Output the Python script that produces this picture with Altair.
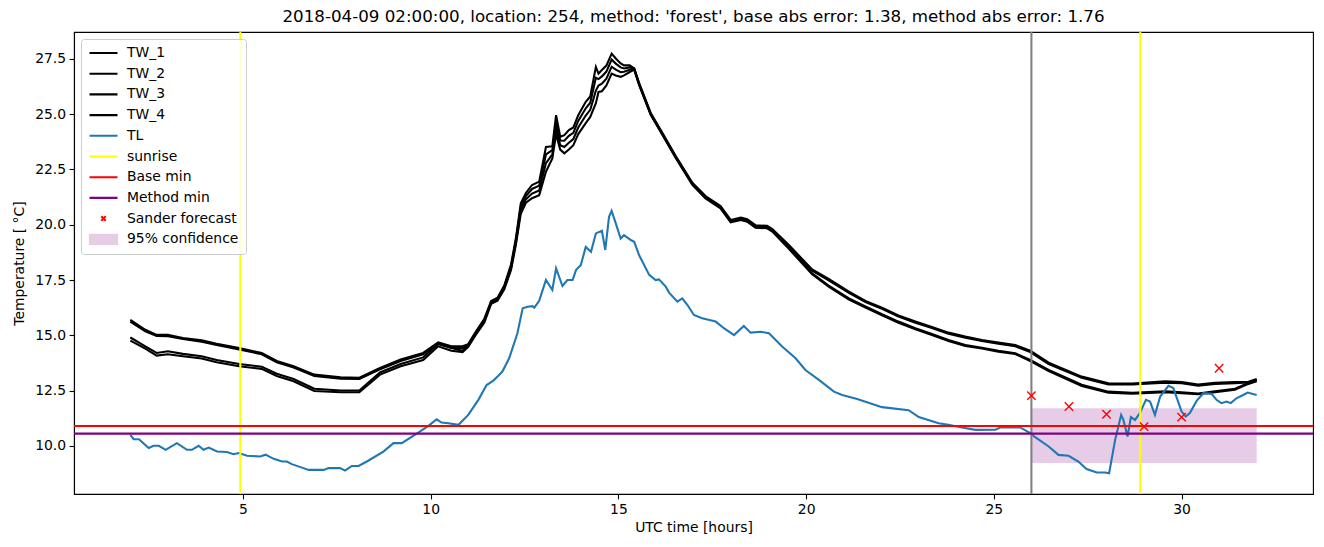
import altair as alt
import pandas as pd

# ---------------- data ----------------
tw_hours = [2.0, 2.4, 2.7, 3.0, 3.4, 3.9, 4.3, 4.9, 5.5, 5.9,
            6.35, 6.9, 7.6, 8.1, 8.65, 9.2, 9.8, 10.2, 10.55, 10.85,
            11.0, 11.2, 11.43, 11.61, 11.78, 11.96, 12.14, 12.27, 12.40, 12.54,
            12.70, 12.89, 13.07, 13.24, 13.34, 13.45, 13.56, 13.68, 13.80, 13.93,
            14.13, 14.25, 14.40, 14.47, 14.56, 14.68, 14.82, 14.93, 15.06, 15.15,
            15.30, 15.42, 15.55, 15.86, 16.17, 16.53, 16.97, 17.32, 17.72, 17.99,
            18.26, 18.43, 18.65, 18.96, 19.10, 19.54, 20.16, 20.60, 21.14, 21.58,
            22.02, 22.46, 22.91, 23.35, 23.79, 24.24, 24.68, 25.12, 25.57, 25.97,
            26.46, 27.34, 28.05, 28.69, 29.56, 30.00, 30.44, 30.89, 31.42, 31.78,
            32.0]

tw_1 = [15.70, 15.25, 15.02, 15.02, 14.88, 14.77, 14.62, 14.42, 14.20, 13.84,
        13.60, 13.22, 13.10, 13.08, 13.52, 13.90, 14.20, 14.68, 14.50, 14.50,
        14.60, 15.16, 15.75, 16.55, 16.70, 17.25, 18.20, 19.40, 20.97, 21.45,
        21.80, 21.95, 23.52, 23.55, 24.96, 23.98, 24.05, 24.28, 24.40, 24.96,
        25.56, 25.80, 27.14, 26.84, 27.00, 27.20, 27.74, 27.52, 27.30, 27.21,
        27.21, 27.07, 26.42, 25.06, 24.16, 23.10, 21.90, 21.30, 20.85, 20.22,
        20.33, 20.25, 19.98, 19.95, 19.80, 19.08, 17.98, 17.55, 16.97, 16.55,
        16.25, 15.90, 15.62, 15.38, 15.12, 14.94, 14.79, 14.67, 14.56, 14.30,
        13.76, 13.13, 12.83, 12.82, 12.92, 12.88, 12.77, 12.85, 12.88, 12.90,
        13.02]

tw_2 = [15.62, 15.18, 14.97, 14.96, 14.83, 14.71, 14.56, 14.36, 14.14, 13.78,
        13.54, 13.16, 13.04, 13.02, 13.46, 13.84, 14.14, 14.62, 14.44, 14.42,
        14.56, 15.10, 15.70, 16.50, 16.65, 17.20, 18.10, 19.30, 20.83, 21.31,
        21.62, 21.77, 23.18, 23.38, 24.70, 23.81, 23.80, 24.02, 24.16, 24.70,
        25.27, 25.52, 26.65, 26.59, 26.71, 26.93, 27.47, 27.29, 27.12, 27.07,
        27.12, 27.04, 26.38, 25.02, 24.12, 23.06, 21.86, 21.25, 20.80, 20.17,
        20.28, 20.20, 19.93, 19.90, 19.75, 19.02, 17.92, 17.48, 16.92, 16.50,
        16.20, 15.85, 15.57, 15.33, 15.07, 14.89, 14.74, 14.62, 14.50, 14.24,
        13.70, 13.08, 12.78, 12.77, 12.86, 12.83, 12.72, 12.80, 12.83, 12.86,
        12.98]

tw_3 = [14.90, 14.50, 14.20, 14.28, 14.16, 14.05, 13.88, 13.70, 13.58, 13.26,
        13.02, 12.58, 12.50, 12.50, 13.32, 13.70, 14.00, 14.60, 14.42, 14.30,
        14.56, 15.10, 15.66, 16.48, 16.62, 17.15, 18.05, 19.20, 20.66, 21.16,
        21.41, 21.55, 22.79, 23.19, 24.40, 23.60, 23.52, 23.71, 23.88, 24.40,
        24.94, 25.20, 26.07, 26.30, 26.38, 26.61, 27.15, 27.02, 26.90, 26.92,
        27.01, 27.07, 26.36, 25.00, 24.10, 23.04, 21.84, 21.22, 20.77, 20.14,
        20.25, 20.17, 19.90, 19.87, 19.72, 18.95, 17.80, 17.25, 16.67, 16.30,
        15.95, 15.62, 15.32, 15.06, 14.79, 14.56, 14.44, 14.30, 14.19, 13.88,
        13.43, 12.76, 12.45, 12.40, 12.47, 12.42, 12.37, 12.47, 12.58, 12.84,
        12.96]

tw_4 = [14.76, 14.40, 14.08, 14.14, 14.05, 13.95, 13.78, 13.60, 13.48, 13.16,
        12.92, 12.48, 12.42, 12.42, 13.22, 13.60, 13.88, 14.50, 14.30, 14.24,
        14.48, 15.02, 15.58, 16.42, 16.56, 17.08, 17.95, 19.10, 20.50, 21.00,
        21.20, 21.34, 22.40, 23.00, 24.10, 23.40, 23.23, 23.40, 23.60, 24.10,
        24.60, 24.88, 25.50, 26.01, 26.04, 26.30, 26.84, 26.75, 26.69, 26.76,
        26.91, 27.02, 26.33, 24.97, 24.07, 23.01, 21.81, 21.19, 20.74, 20.11,
        20.22, 20.14, 19.87, 19.84, 19.69, 18.91, 17.76, 17.20, 16.62, 16.25,
        15.90, 15.57, 15.27, 15.01, 14.74, 14.52, 14.40, 14.26, 14.15, 13.83,
        13.38, 12.71, 12.40, 12.36, 12.42, 12.38, 12.33, 12.43, 12.54, 12.80,
        12.92]

tl_hours = [2.00, 2.09, 2.23, 2.49, 2.62, 2.76, 2.94, 3.24, 3.51, 3.64,
            3.82, 3.95, 4.09, 4.31, 4.57, 4.75, 4.89, 5.11, 5.46, 5.60,
            5.82, 6.04, 6.17, 6.30, 6.61, 6.75, 7.15, 7.28, 7.59, 7.72,
            7.90, 8.08, 8.30, 8.74, 9.01, 9.23, 9.72, 9.94, 10.16, 10.29,
            10.47, 10.74, 11.00, 11.27, 11.49, 11.67, 11.78, 11.91, 12.09, 12.31,
            12.45, 12.58, 12.71, 12.76, 12.89, 13.07, 13.24, 13.34, 13.51, 13.64,
            13.78, 13.87, 14.00, 14.13, 14.27, 14.40, 14.56, 14.65, 14.75, 14.82,
            14.93, 15.06, 15.15, 15.33, 15.42, 15.55, 15.82, 15.99, 16.08, 16.26,
            16.35, 16.57, 16.70, 16.84, 17.01, 17.23, 17.59, 17.81, 18.08, 18.34,
            18.52, 18.79, 19.01, 19.36, 19.72, 19.98, 20.34, 20.74, 20.96, 21.36,
            22.02, 22.73, 23.00, 23.53, 23.79, 24.15, 24.51, 25.04, 25.17, 25.70,
            25.97, 26.10, 26.46, 26.72, 26.99, 27.25, 27.47, 27.74, 27.96, 28.07,
            28.23, 28.39, 28.45, 28.56, 28.65, 28.76, 28.89, 29.05, 29.16, 29.29,
            29.43, 29.65, 29.78, 30.00, 30.11, 30.22, 30.40, 30.58, 30.80, 30.93,
            31.06, 31.20, 31.31, 31.46, 31.64, 31.76, 32.00]

tl_values = [10.50, 10.30, 10.30, 9.90, 10.00, 10.00, 9.82, 10.12, 9.82, 9.82,
             10.00, 9.82, 9.92, 9.74, 9.72, 9.62, 9.67, 9.55, 9.52, 9.60,
             9.41, 9.29, 9.29, 9.17, 8.99, 8.91, 8.91, 8.99, 8.99, 8.88,
             9.09, 9.09, 9.29, 9.74, 10.12, 10.12, 10.65, 10.90, 11.20, 11.05,
             11.02, 10.95, 11.40, 12.08, 12.75, 12.95, 13.13, 13.36, 13.96, 15.09,
             16.22, 16.29, 16.32, 16.25, 16.56, 17.50, 17.05, 18.03, 17.23, 17.50,
             17.50, 17.95, 18.18, 19.00, 18.78, 19.61, 19.73, 18.86, 20.36, 20.63,
             20.06, 19.38, 19.53, 19.31, 19.23, 18.63, 17.73, 17.50, 17.53, 17.20,
             16.93, 16.52, 16.67, 16.37, 15.92, 15.77, 15.62, 15.32, 15.01, 15.42,
             15.12, 15.16, 15.09, 14.49, 13.96, 13.43, 12.98, 12.45, 12.30, 12.12,
             11.75, 11.61, 11.30, 11.02, 10.95, 10.83, 10.72, 10.73, 10.83, 10.83,
             10.57, 10.39, 9.97, 9.59, 9.55, 9.29, 8.95, 8.79, 8.79, 8.76,
             10.27, 11.40, 11.17, 10.42, 11.30, 11.17, 11.48, 12.08, 12.00, 11.40,
             12.23, 12.71, 12.61, 11.55, 11.32, 11.48, 12.03, 12.38, 12.35, 12.08,
             11.93, 12.00, 11.93, 12.15, 12.30, 12.41, 12.30]

sunrise_hours = [4.93, 28.90]
min_values = [10.90, 10.55]
min_labels = ["Base min", "Method min"]
forecast_hour = [26.0]
sander_hours = [26, 27, 28, 29, 30, 31]
sander_values = [12.27, 11.78, 11.43, 10.87, 11.30, 13.51]
conf_hours = [26.0, 32.0]
conf_temps = [9.22, 11.70]

labels = ["TW_1", "TW_2", "TW_3", "TW_4", "TL", "sunrise", "Base min",
          "Method min", "Sander forecast", "95% confidence"]
colors = ["#000000", "#000000", "#000000", "#000000", "#1f77b4", "#ffff00",
          "#ff0000", "#800080", "#ff0000", "#e6cce6"]

FONT = "DejaVu Sans"
LW = 2.08

# ---------------- frames ----------------
tw_frames = []
for name, vals in zip(labels[:4], [tw_1, tw_2, tw_3, tw_4]):
    tw_frames.append(pd.DataFrame({"hours": tw_hours, "temp": vals, "series": name}))
tw_df = pd.concat(tw_frames, ignore_index=True)
tl_df = pd.DataFrame({"hours": tl_hours, "temp": tl_values, "series": "TL"})
sun_df = pd.DataFrame({"hours": sunrise_hours, "series": "sunrise"})
min_df = pd.DataFrame({"temp": min_values, "series": min_labels})
fc_df = pd.DataFrame({"hours": forecast_hour})
sander_df = pd.DataFrame({"hours": sander_hours, "temp": sander_values,
                          "series": "Sander forecast"})
conf_df = pd.DataFrame({"hours": [conf_hours[0]], "hours2": [conf_hours[1]],
                        "temp": [conf_temps[0]], "temp2": [conf_temps[1]],
                        "series": "95% confidence"})

# ---------------- legend symbol expressions ----------------
def ternary(mapping, default):
    expr = "'" + default + "'"
    for k, v in reversed(mapping):
        expr = "datum.value === '" + k + "' ? '" + v + "' : (" + expr + ")"
    return expr

stroke_expr = ternary(list(zip(labels, colors)), "#000000")
fill_expr = "datum.value === '95% confidence' ? '#e6cce6' : 'transparent'"
shape_expr = ("datum.value === 'Sander forecast' ? 'M-0.16,-0.16L0.16,0.16M0.16,-0.16L-0.16,0.16' : "
              "(datum.value === '95% confidence' ? 'M-0.97,-0.33H0.97V0.33H-0.97Z' : 'M-1,0H1')")

legend = alt.Legend(
    title=None, orient="top-left", offset=7, padding=7,
    rowPadding=6.7, clipHeight=14, symbolSize=784,
    symbolStrokeWidth=LW,
    symbolType={"expr": shape_expr},
    symbolStrokeColor={"expr": stroke_expr},
    symbolFillColor={"expr": fill_expr},
    symbolOpacity=1,
    labelFont=FONT, labelFontSize=13.9, labelColor="black", labelOffset=8,
    labelLimit=400,
    strokeColor="#cccccc", fillColor="rgba(255,255,255,0.8)", cornerRadius=3,
)

color = alt.Color("series:N", scale=alt.Scale(domain=labels, range=colors), legend=legend)

xscale = alt.Scale(domain=[0.5, 33.5], nice=False, zero=False)
yscale = alt.Scale(domain=[7.82, 28.72], nice=False, zero=False)
xaxis = alt.Axis(values=[5, 10, 15, 20, 25, 30], format="d", title="UTC time [hours]")
yaxis = alt.Axis(values=[10, 12.5, 15, 17.5, 20, 22.5, 25, 27.5], format=".1f",
                 title="Temperature [ °C]")

X = alt.X("hours:Q", scale=xscale, axis=xaxis)
Y = alt.Y("temp:Q", scale=yscale, axis=yaxis)

conf_layer = alt.Chart(conf_df).mark_rect(opacity=1).encode(
    x=X, x2="hours2:Q", y=Y, y2="temp2:Q", color=color)

tw_layer = alt.Chart(tw_df).mark_line(strokeWidth=LW).encode(
    x=X, y=Y, color=color, order="hours:Q")

tl_layer = alt.Chart(tl_df).mark_line(strokeWidth=LW).encode(
    x=X, y=Y, color=color, order="hours:Q")

fc_layer = alt.Chart(fc_df).mark_rule(strokeWidth=LW, color="#808080").encode(x=X)

sun_layer = alt.Chart(sun_df).mark_rule(strokeWidth=LW).encode(x=X, color=color)

min_layer = alt.Chart(min_df).mark_rule(strokeWidth=LW).encode(y=Y, color=color)

sander_layer = alt.Chart(sander_df).mark_point(
    shape="M-1,-1L1,1M1,-1L-1,1", size=70, strokeWidth=1.4, filled=False, opacity=1
).encode(x=X, y=Y, color=color)

chart = alt.layer(
    conf_layer, tw_layer, tl_layer, fc_layer, sun_layer, min_layer, sander_layer
).properties(
    width=1239, height=462,
    padding={"left": 74, "top": 32, "right": 11, "bottom": 53},
    autosize=alt.AutoSizeParams(type="none"),
    title=alt.TitleParams(
        "2018-04-09 02:00:00, location: 254, method: 'forest', base abs error: 1.38, method abs error: 1.76",
        font=FONT, fontSize=16.7, fontWeight="normal", color="black",
        anchor="middle", frame="group", offset=5),
).configure_axis(
    grid=False, domainColor="black", domainWidth=1.1, tickColor="black", tickWidth=1.1,
    tickSize=4.9, labelPadding=3.5, labelFont=FONT, labelFontSize=13.9,
    labelColor="black", titleFont=FONT, titleFontSize=13.9, titleFontWeight="normal",
    titleColor="black",
).configure_axisX(titlePadding=4).configure_axisY(titlePadding=8).configure_view(
    stroke="black", strokeWidth=1.1
)

chart.save("out.html", embed_options={"renderer": "svg", "actions": False})
